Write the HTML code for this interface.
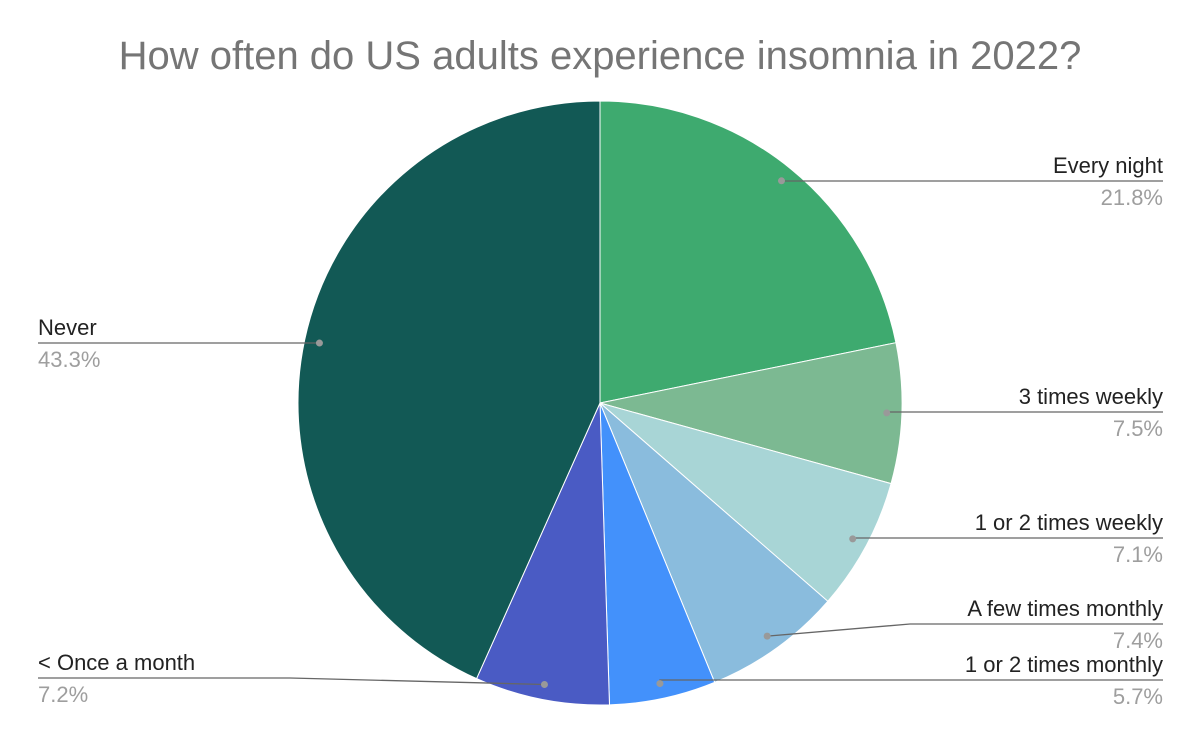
<!DOCTYPE html>
<html><head><meta charset="utf-8">
<style>
html,body{margin:0;padding:0;background:#fff;}
svg{display:block;font-family:"Liberation Sans",sans-serif;}
</style></head>
<body>
<svg id="chart" width="1200" height="742" viewBox="0 0 1200 742">
<rect width="1200" height="742" fill="#fff"/>
<text x="600" y="69" text-anchor="middle" font-size="40" fill="#757575">How often do US adults experience insomnia in 2022?</text>
<g id="slices"></g>
<g id="labels"></g>
</svg>
<script>
const categories = ["Every night","3 times weekly","1 or 2 times weekly","A few times monthly","1 or 2 times monthly","< Once a month","Never"];
const values = [21.8, 7.5, 7.1, 7.4, 5.7, 7.2, 43.3];
const valueLabels = ["21.8%","7.5%","7.1%","7.4%","5.7%","7.2%","43.3%"];
const colors = ["#3eaa6f","#7cb992","#a8d5d6","#8abcdd","#4391fb","#4a5bc4","#125955"];
// layout: [side, lineY, elbowX]
const layout = [["r",181,null],["r",412,null],["r",538,null],["r",624,910],["r",680,null],["l",678,290],["l",343,null]];
const cx=600, cy=403, R=302, NS="http://www.w3.org/2000/svg";
const total = values.reduce((a,b)=>a+b,0);
const sg=document.getElementById('slices'), lg=document.getElementById('labels');
function pt(a,r){return [cx+r*Math.sin(a), cy-r*Math.cos(a)];}
let acc=0;
values.forEach((v,i)=>{
  const a0=acc/total*2*Math.PI; acc+=v; const a1=acc/total*2*Math.PI;
  const p0=pt(a0,R), p1=pt(a1,R);
  const p=document.createElementNS(NS,'path');
  p.setAttribute('d',`M${cx},${cy}L${p0[0]},${p0[1]}A${R},${R} 0 ${a1-a0>Math.PI?1:0} 1 ${p1[0]},${p1[1]}Z`);
  p.setAttribute('fill',colors[i]);
  p.setAttribute('stroke','#fff');p.setAttribute('stroke-width','1');
  
  
  sg.appendChild(p);
  const am=(a0+a1)/2, d=pt(am,R*0.95);
  const [side,ly,ex]=layout[i];
  const endX = side==="r"?1163:38;
  let pts = `${d[0]},${d[1]} `;
  if(ex!==null) pts += `${ex},${ly} `; else pts += `${d[0]},${ly} `;
  pts += `${endX},${ly}`;
  const ln=document.createElementNS(NS,'polyline');
  ln.setAttribute('points',pts);ln.setAttribute('fill','none');ln.setAttribute('stroke','#666');ln.setAttribute('stroke-width','1.3');
  
  
  lg.appendChild(ln);
  const c=document.createElementNS(NS,'circle');
  c.setAttribute('cx',d[0]);c.setAttribute('cy',d[1]);c.setAttribute('r','3.5');c.setAttribute('fill','#999');
  
  
  lg.appendChild(c);
  const anchor = side==="r"?"end":"start";
  const t=document.createElementNS(NS,'text');
  t.setAttribute('x',endX);t.setAttribute('y',ly-8);t.setAttribute('text-anchor',anchor);
  t.setAttribute('font-size','22');t.setAttribute('fill','#222');t.textContent=categories[i];
  
  
  lg.appendChild(t);
  const t2=document.createElementNS(NS,'text');
  t2.setAttribute('x',endX);t2.setAttribute('y',ly+24);t2.setAttribute('text-anchor',anchor);
  t2.setAttribute('font-size','22');t2.setAttribute('fill','#9e9e9e');t2.textContent=valueLabels[i];
  
  
  lg.appendChild(t2);
});
</script>
</body></html>
